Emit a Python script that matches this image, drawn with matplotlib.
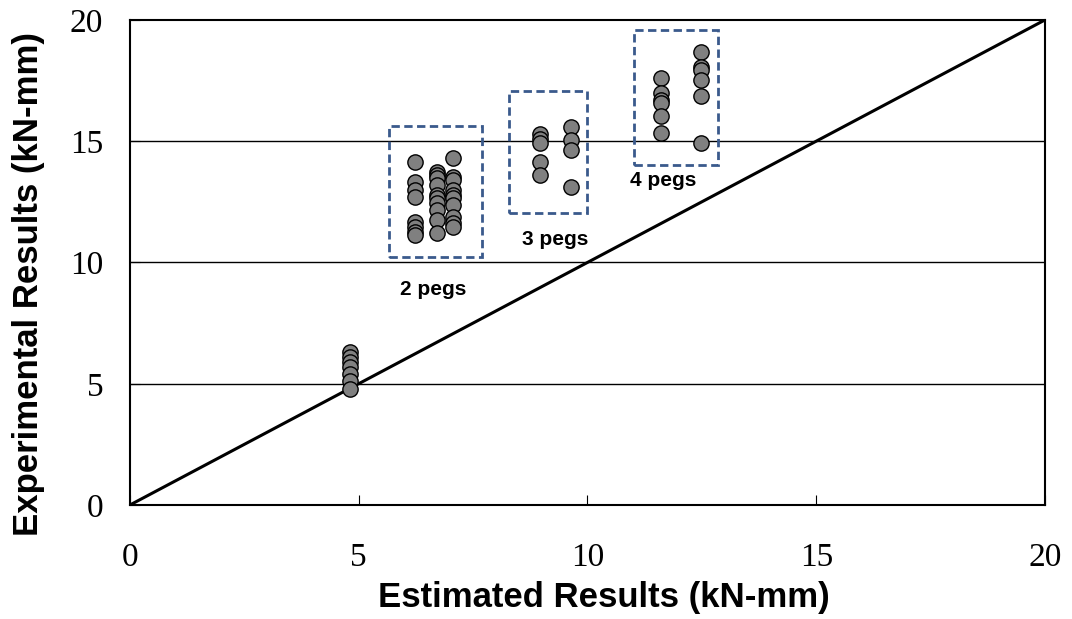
import matplotlib.pyplot as plt
from matplotlib.patches import Rectangle

# estimated (x) and experimental (y) values, kN-mm
x_1peg = [4.81] * 7
y_1peg = [6.3, 6.1, 5.9, 5.7, 5.4, 5.1, 4.8]

x_2a = [6.23] * 8
y_2a = [14.16, 13.33, 12.99, 12.69, 11.68, 11.47, 11.27, 11.13]
x_2b = [6.71] * 10
y_2b = [13.74, 13.6, 13.47, 13.2, 12.78, 12.65, 12.44, 12.16, 11.75, 11.2]
x_2c = [7.06] * 10
y_2c = [14.3, 13.54, 13.4, 12.99, 12.78, 12.65, 12.37, 11.89, 11.62, 11.48]

x_3a = [8.96] * 5
y_3a = [15.3, 15.1, 14.92, 14.16, 13.61]
x_3b = [9.63] * 4
y_3b = [15.6, 15.05, 14.64, 13.13]

x_4a = [11.6] * 6
y_4a = [17.62, 16.98, 16.7, 16.56, 16.05, 15.33]
x_4b = [12.48] * 6
y_4b = [18.69, 18.07, 17.94, 17.53, 16.84, 14.92]

xs = x_1peg + x_2a + x_2b + x_2c + x_3a + x_3b + x_4a + x_4b
ys = y_1peg + y_2a + y_2b + y_2c + y_3a + y_3b + y_4a + y_4b

# group boxes: (x0, y0, x1, y1) and labels
boxes = [(5.66, 10.23, 7.69, 15.63), (8.28, 12.04, 9.99, 17.07), (11.02, 14.02, 12.85, 19.59)]
labels = ["2 pegs", "3 pegs", "4 pegs"]
label_pos = [(6.64, 8.87), (9.29, 10.93), (11.65, 13.36)]

fig = plt.figure(figsize=(10.72, 6.19), dpi=100)
ax = fig.add_axes([0.121, 0.184, 0.854, 0.784])

for g in [5, 10, 15]:
    ax.axhline(g, color="black", lw=1, zorder=1)
ax.plot([0, 20], [0, 20], color="black", lw=2.2, zorder=2)

ax.plot(xs, ys, "o", ms=11, mfc="#808080", mec="black", mew=1, zorder=3)

for (x0, y0, x1, y1), lab, (lx, ly) in zip(boxes, labels, label_pos):
    ax.add_patch(Rectangle((x0, y0), x1 - x0, y1 - y0, fill=False,
                           ec="#3a5a8c", lw=2, ls=(0, (3, 1.6)), zorder=4))
    ax.text(lx, ly, lab, ha="center", va="center", fontsize=15,
            fontweight="bold", family="Liberation Sans")

ax.set_xlim(0, 20)
ax.set_ylim(0, 20)
ax.set_xticks([0, 5, 10, 15, 20])
ax.set_yticks([0, 5, 10, 15, 20])
ax.tick_params(direction="in", length=7, labelsize=24)
ax.tick_params(axis="x", pad=27)
ax.tick_params(axis="y", pad=19)
for lab in ax.get_xticklabels() + ax.get_yticklabels():
    lab.set_family("Liberation Serif")
for s in ax.spines.values():
    s.set_linewidth(1.5)

ax.set_xlabel("Estimated Results (kN-mm)", fontsize=25, fontweight="bold",
              family="Liberation Sans", va="center")
ax.set_ylabel("Experimental Results (kN-mm)", fontsize=25, fontweight="bold",
              family="Liberation Sans", va="center")
ax.xaxis.set_label_coords(0.518, -0.19)
ax.yaxis.set_label_coords(-0.111, 0.456)

fig.savefig("out.png", dpi=100)
